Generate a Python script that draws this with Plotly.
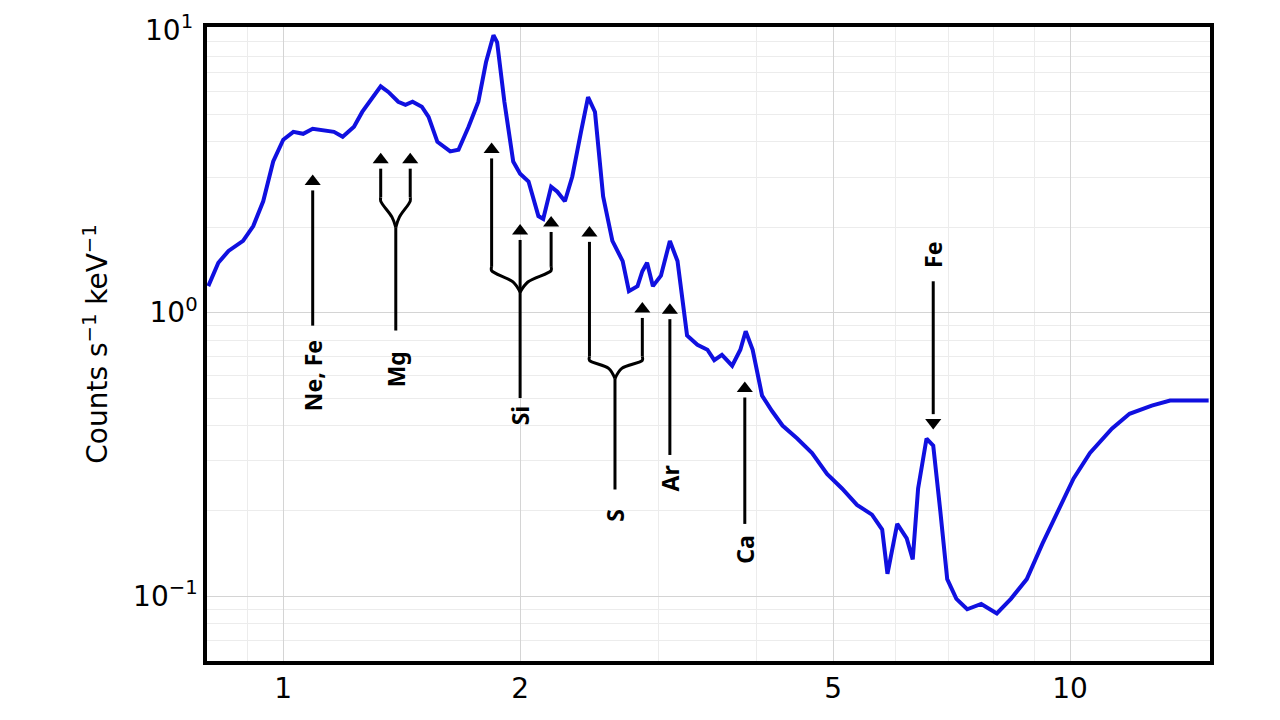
import numpy as np
import plotly.graph_objects as go

# spectrum (keV, counts s^-1 keV^-1)
energy = [0.803, 0.827, 0.852, 0.889, 0.916, 0.943, 0.971, 1.0, 1.03, 1.06, 1.09, 1.12, 1.16, 1.19,
          1.23, 1.26, 1.30, 1.33, 1.36, 1.40, 1.43, 1.46, 1.50, 1.53, 1.57, 1.63, 1.67, 1.72, 1.77,
          1.81, 1.85, 1.87, 1.91, 1.96, 2.00, 2.05, 2.11, 2.14, 2.19, 2.23, 2.28, 2.33, 2.39, 2.44,
          2.49, 2.55, 2.62, 2.70, 2.75, 2.82, 2.86, 2.90, 2.95, 3.02, 3.10, 3.17, 3.26, 3.36, 3.46,
          3.53, 3.61, 3.72, 3.81, 3.87, 3.95, 4.06, 4.18, 4.31, 4.50, 4.70, 4.91, 5.13, 5.36, 5.60,
          5.77, 5.86, 6.03, 6.20, 6.31, 6.41, 6.57, 6.70, 6.84, 6.98, 7.17, 7.40, 7.71, 8.07, 8.41,
          8.81, 9.22, 9.64, 10.1, 10.6, 11.3, 11.9, 12.7, 13.4, 14.3, 15.0]
counts = [1.24, 1.50, 1.65, 1.79, 2.02, 2.47, 3.41, 4.07, 4.34, 4.27, 4.45, 4.41, 4.34, 4.17,
          4.52, 5.10, 5.75, 6.28, 6.00, 5.54, 5.40, 5.54, 5.32, 4.90, 4.00, 3.70, 3.75, 4.52, 5.54,
          7.63, 9.5, 8.98, 5.54, 3.41, 3.09, 2.90, 2.19, 2.14, 2.78, 2.67, 2.47, 3.02, 4.34, 5.75,
          5.10, 2.57, 1.79, 1.52, 1.19, 1.24, 1.40, 1.50, 1.24, 1.35, 1.79, 1.52, 0.83, 0.77, 0.74,
          0.68, 0.71, 0.65, 0.74, 0.86, 0.74, 0.51, 0.45, 0.40, 0.36, 0.32, 0.27, 0.24, 0.21, 0.194,
          0.172, 0.12, 0.18, 0.16, 0.135, 0.24, 0.36, 0.34, 0.20, 0.115, 0.098, 0.09, 0.094, 0.087, 0.098,
          0.115, 0.153, 0.20, 0.26, 0.32, 0.39, 0.44, 0.47, 0.49, 0.49, 0.49]

# line labels: (text, stem x, tip y, tail y, label y)
single_arrows = [("Ne, Fe", 1.09, 2.9, 0.90, 0.60),
                 ("Ar", 3.10, 1.02, 0.315, 0.26),
                 ("Ca", 3.86, 0.54, 0.18, 0.147)]
# brace groups: text, arrow xs, arrow tips, arm bottom y, join y, stem x, stem bottom, label y
braces = [("Mg", [1.33, 1.45], [3.46, 3.46], 2.55, 2.15, 1.39, 0.865, 0.63),
          ("Si", [1.84, 2.19], [3.76, 2.07], 1.45, 1.27, 2.00, 0.50, 0.435),
          ("S", [2.45, 2.86], [1.91, 1.03], 0.70, 0.63, 2.64, 0.238, 0.194)]
si_middle_tip = 1.94
fe_arrow = ("Fe", 6.70, 0.41, 1.29, 1.60)

fig = go.Figure()
fig.add_trace(go.Scatter(x=energy, y=counts, mode="lines",
                         line=dict(color="#1010e0", width=4), showlegend=False))

blk = dict(color="black", width=3)
tips_x, tips_y, tip_sym = [], [], []

def add_line(xs, ys, shape="linear"):
    fig.add_trace(go.Scatter(x=xs, y=ys, mode="lines", line=dict(blk, shape=shape, smoothing=1.0),
                             showlegend=False, hoverinfo="skip"))

def label(text, x, y):
    fig.add_annotation(x=np.log10(x), y=np.log10(y), text=f"<b>{text}</b>", showarrow=False,
                       textangle=-90, font=dict(family="Noto Sans", size=23, color="black"))

for text, x, tip, tail, ly in single_arrows:
    add_line([x, x], [tail, tip * 0.93])
    tips_x.append(x); tips_y.append(tip); tip_sym.append("triangle-up")
    label(text, x, ly)

for text, xs, tips, arm, join, xc, stem, ly in braces:
    xl, xr = xs
    for xa, tp in zip(xs, tips):
        add_line([xa, xa], [arm, tp * 0.93])
        tips_x.append(xa); tips_y.append(tp); tip_sym.append("triangle-up")
    mid_l = 10 ** (np.log10(xl) * 0.25 + np.log10(xc) * 0.75)
    mid_r = 10 ** (np.log10(xr) * 0.25 + np.log10(xc) * 0.75)
    add_line([xl, xl, mid_l, xc], [arm, arm * 0.97, join * 1.01, join * 0.93], shape="spline")
    add_line([xr, xr, mid_r, xc], [arm, arm * 0.97, join * 1.01, join * 0.93], shape="spline")
    add_line([xc, xc], [stem, si_middle_tip * 0.93 if text == "Si" else join * 0.93])
    if text == "Si":
        tips_x.append(xc); tips_y.append(si_middle_tip); tip_sym.append("triangle-up")
    label(text, xc, ly)

text, x, tip, tail, ly = fe_arrow
add_line([x, x], [tail, tip * 1.07])
tips_x.append(x); tips_y.append(tip); tip_sym.append("triangle-down")
label(text, x, ly)

fig.add_trace(go.Scatter(x=tips_x, y=tips_y, mode="markers", showlegend=False, hoverinfo="skip",
                         marker=dict(symbol=tip_sym, size=14, color="black")))

# top decade label sits on the frame edge, plotly drops it there
fig.add_annotation(xref="paper", x=0, y=1, xanchor="right", xshift=-12, showarrow=False,
                   text="10<sup>1</sup>", font=dict(size=28, color="black"))

minor_x = [0.9, 3, 4, 6, 7, 8, 9]
minor_y = [0.07, 0.08, 0.09, 0.2, 0.3, 0.4, 0.5, 0.6, 0.7, 0.8, 0.9,
           2, 3, 4, 5, 6, 7, 8, 9]
fig.update_xaxes(type="log", range=[np.log10(0.80), np.log10(15.06)],
                 tickvals=[1, 2, 5, 10], ticktext=["1", "2", "5", "10"],
                 showgrid=True, gridcolor="#d4d4d4", gridwidth=1,
                 minor=dict(tickvals=minor_x, showgrid=True, gridcolor="#ececec"),
                 showline=True, mirror=True, linecolor="black", linewidth=3.5,
                 ticks="", tickfont=dict(size=28, color="black"), zeroline=False)
fig.update_yaxes(type="log", range=[-1.228, 1.007],
                 tickvals=[0.1, 1], ticktext=["10<sup>\u22121</sup>", "10<sup>0</sup>"],
                 showgrid=True, gridcolor="#d4d4d4", gridwidth=1,
                 minor=dict(tickvals=minor_y, showgrid=True, gridcolor="#ececec"),
                 showline=True, mirror=True, linecolor="black", linewidth=3.5,
                 ticks="", tickfont=dict(size=28, color="black"), zeroline=False,
                 title=dict(text="Counts s<sup>\u22121</sup> keV<sup>\u22121</sup>",
                            font=dict(size=28, color="black"), standoff=18))
fig.update_layout(width=1280, height=720, plot_bgcolor="white", paper_bgcolor="white",
                  font=dict(family="DejaVu Sans"),
                  margin=dict(l=199, r=78, t=19, b=67))
fig.write_html("out.html")
